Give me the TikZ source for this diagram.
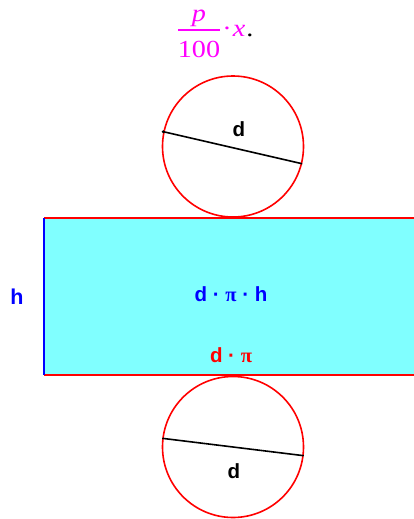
\documentclass[tikz,border=0pt]{standalone}
\usepackage{fontspec}
\setmainfont{Liberation Serif}
\newfontfamily\lsans{Liberation Sans}
\newfontfamily\wideserif[FakeStretch=1.15]{Liberation Serif}
\definecolor{mag}{RGB}{255,0,255}
\definecolor{cyanfill}{RGB}{128,255,255}
\begin{document}
\begin{tikzpicture}[x=1pt,y=-1pt,
  lab/.style={font=\lsans\bfseries\fontsize{20.5}{20.5}\selectfont, inner sep=0},
  frm/.style={font=\wideserif\fontsize{24.5}{24.5}\selectfont, text=mag, inner sep=0, anchor=base},
  disc/.style={circle, draw=red, line width=1.6pt, minimum size=141pt, inner sep=0},
  diam/.style={line width=1.6pt, black}]
\useasboundingbox (0,0) rectangle (414,519);
% rectangle
\fill[cyanfill] (44,218) rectangle (414,375);
\coordinate (tl) at (44,218);
\coordinate (tr) at (414,218);
\coordinate (bl) at (44,375);
\coordinate (br) at (414,375);
\draw[red, line width=2.2pt] (tl) -- (tr);
\draw[red, line width=2.2pt] (bl) -- (br);
\draw[blue, line width=2.2pt] (tl) -- (bl);
% circles
\node[disc] (c1) at (233,146.5) {};
\node[disc] (c2) at (233,447) {};
\draw[diam] (c1.168) -- (c1.346);
\fill[black] (c1.168) circle (1.6pt);
\draw[diam] (c2.173) -- (c2.353);
\node[lab] (d1) at (239,129) {d};
\node[lab] (d2) at (234,471) {d};
% labels
\node[lab, text=blue, font=\lsans\bfseries\fontsize{21.5}{21.5}\selectfont] (h) at (17,297) {h};
\node[lab, text=blue] (area) at (231,294) {d · {\rmfamily\bfseries π} · h};
\node[lab, text=red] (circ) at (231,355) {d · {\rmfamily\bfseries π}};
% formula
\node[frm] (p) at (199,22) {\itshape p};
\node[frm] (hundred) at (199,58) {100};
\coordinate (b1) at (178,30);
\coordinate (b2) at (220,30);
\draw[mag, line width=1.4pt] (b1) -- (b2);
\node[frm] (cdot) at (227,37) {·};
\node[frm] (xx) at (239,37) {\itshape x};
\node[frm, text=black] (per) at (250,37) {.};
\end{tikzpicture}
\end{document}
